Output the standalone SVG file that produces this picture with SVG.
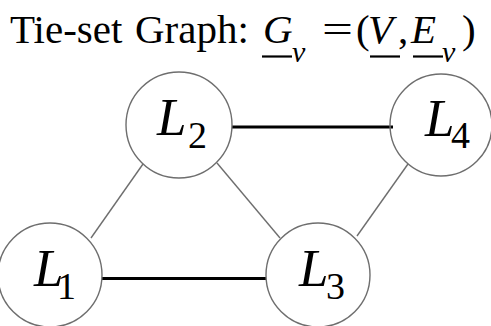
<svg xmlns="http://www.w3.org/2000/svg" width="491" height="326" viewBox="0 0 491 326">
<style>
.t{font-family:"Liberation Serif","Times New Roman",serif;fill:#000}
.i{font-style:italic}
.node circle{fill:none;stroke:#6e6e6e;stroke-width:1.4}
.thin{stroke:#6e6e6e;stroke-width:1.4}
.thick{stroke:#000;stroke-width:3}
.ul{stroke:#000;stroke-width:2.2}
</style>
<rect width="491" height="326" fill="#fff"/>
<g id="title">
<text class="t" y="43" font-size="41"><tspan x="10">Tie-set</tspan><tspan x="135">Graph:</tspan><tspan x="263" class="i">G</tspan><tspan x="292" y="62" font-size="30" class="i">v</tspan></text>
<text class="t" x="322" y="43" font-size="41" textLength="31" lengthAdjust="spacingAndGlyphs">=</text>
<text class="t" y="43" font-size="41"><tspan x="356">(</tspan><tspan x="368" class="i">V</tspan><tspan x="398">,</tspan><tspan x="411" class="i">E</tspan><tspan x="442" y="62" font-size="30" class="i">v</tspan><tspan x="462" y="43">)</tspan></text>
<line class="ul" x1="262" y1="56.5" x2="292" y2="56.5"/>
<line class="ul" x1="370" y1="56.5" x2="400" y2="56.5"/>
<line class="ul" x1="413" y1="56.5" x2="443" y2="56.5"/>
</g>
<g id="connectors">
<line class="thick" x1="232" y1="127" x2="393" y2="127"/>
<line class="thick" x1="102" y1="278.5" x2="266" y2="278.5"/>
<line class="thin" x1="91" y1="238" x2="143" y2="164"/>
<line class="thin" x1="217" y1="163" x2="280" y2="238"/>
<line class="thin" x1="408" y1="164" x2="357" y2="236"/>
</g>
<g id="L2" class="node">
<circle cx="179" cy="125" r="53"/>
<text class="t" x="157" y="135" font-size="53"><tspan class="i">L</tspan><tspan x="188" y="148" font-size="38">2</tspan></text>
</g>
<g id="L4" class="node">
<circle cx="441" cy="125" r="51"/>
<text class="t" x="425" y="136" font-size="53"><tspan class="i">L</tspan><tspan x="451" y="148" font-size="38">4</tspan></text>
</g>
<g id="L1" class="node">
<circle cx="50" cy="275" r="52"/>
<text class="t" x="34" y="286" font-size="53"><tspan class="i">L</tspan><tspan x="57" y="299" font-size="38">1</tspan></text>
</g>
<g id="L3" class="node">
<circle cx="318" cy="275" r="52"/>
<text class="t" x="299" y="286" font-size="53"><tspan class="i">L</tspan><tspan x="326" y="299" font-size="38">3</tspan></text>
</g>
</svg>
